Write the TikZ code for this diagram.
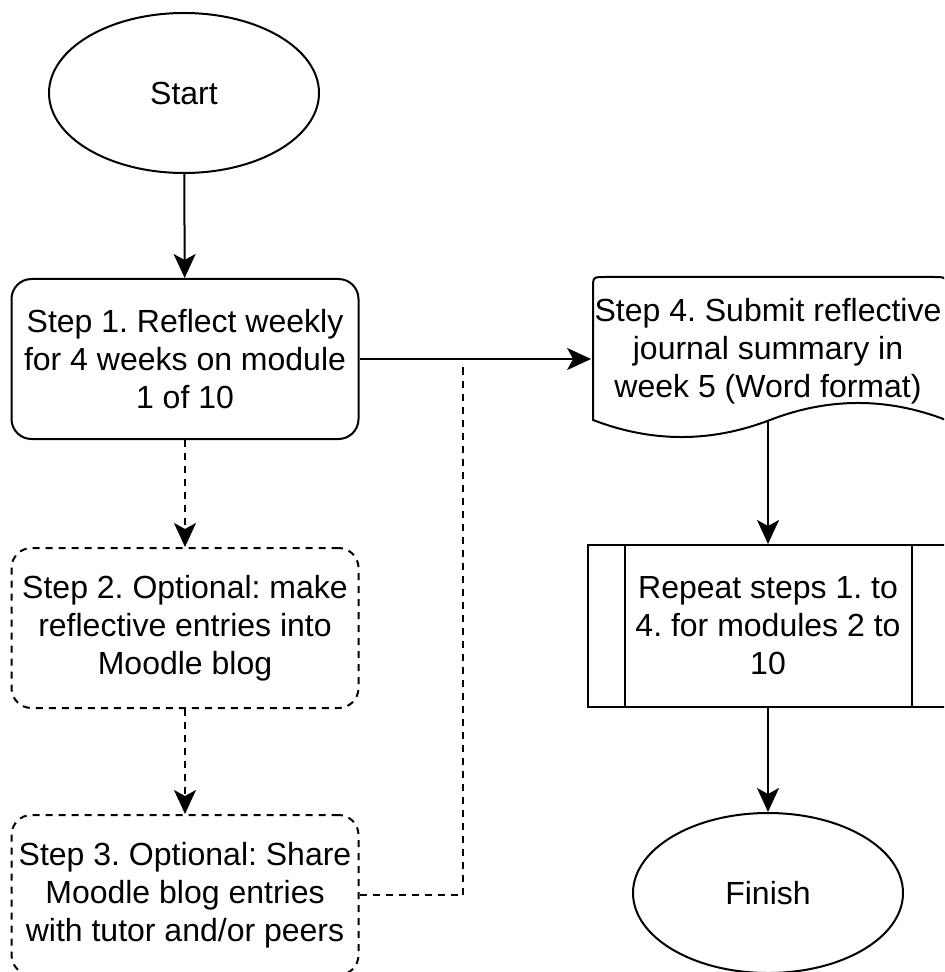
\documentclass[tikz,border=0pt]{standalone}
\usepackage{fontspec}
\setmainfont{Liberation Sans}
\usetikzlibrary{arrows.meta,shapes.geometric}
\tikzset{
  terminal/.style={ellipse,draw,line width=1pt,minimum width=135pt,minimum height=80pt,inner sep=0pt},
  stepbox/.style={rectangle,draw,rounded corners=10pt,line width=1pt,minimum width=173.5pt,minimum height=80pt,align=center,inner sep=0pt},
  optional/.style={dash pattern=on 3.5pt off 3pt},
  flow/.style={line width=1pt,-{Stealth[length=12pt,width=11pt,inset=3pt]}}
}
\begin{document}
\begin{tikzpicture}[x=0.5pt,y=-0.5pt,font=\fontsize{16}{19}\selectfont\frenchspacing]
  \useasboundingbox (0,0) rectangle (944,972);
  \clip (0,0) rectangle (944,972);
  % left column
  \node[terminal] (start) at (184,93) {Start};
  \node[stepbox] (step1) at (185,359) {Step 1. Reflect weekly\\for 4 weeks on module\\1 of 10};
  \node[stepbox,optional] (step2) at (185,628) {Step 2. Optional: make\\reflective entries into\\Moodle blog};
  \node[stepbox,optional] (step3) at (185,895) {Step 3. Optional: Share\\Moodle blog entries\\with tutor and/or peers};
  % document shape (wavy bottom)
  \draw[line width=1pt] (593,420) -- (593,289) .. controls (593,277) .. (605,277)
    -- (934,277) .. controls (946,277) .. (946,289) -- (946,420)
    .. controls (887.3,397.3) and (828.7,397.3) .. (770,420)
    .. controls (711,442.7) and (652,442.7) .. (593,420) -- cycle;
  \node[minimum width=176.5pt,minimum height=70pt,align=center,inner sep=0pt] (step4) at (768,351)
    {Step 4. Submit reflective\\journal summary in\\week 5 (Word format)};
  % predefined process box
  \node[draw,line width=1pt,minimum width=180.5pt,minimum height=81pt,align=center,inner sep=0pt] (repeat) at (768,626)
    {Repeat steps 1. to\\4. for modules 2 to\\10};
  \draw[line width=1pt] ([xshift=19pt]repeat.north west) -- ([xshift=19pt]repeat.south west);
  \draw[line width=1pt] ([xshift=-19pt]repeat.north east) -- ([xshift=-19pt]repeat.south east);
  \node[terminal] (finish) at (768,893) {Finish};
  % connectors
  \coordinate (join) at (463,362);
  \draw[flow] (start) -- (step1);
  \draw[flow,optional] (step1) -- (step2);
  \draw[flow,optional] (step2) -- (step3);
  \draw[line width=1pt,optional] (step3.east) -| (join);
  \draw[flow] (step1.east) -- (step1.east -| step4.west);
  \draw[flow] (step4.south) -- (repeat.north);
  \draw[flow] (repeat) -- (finish);
\end{tikzpicture}
\end{document}
